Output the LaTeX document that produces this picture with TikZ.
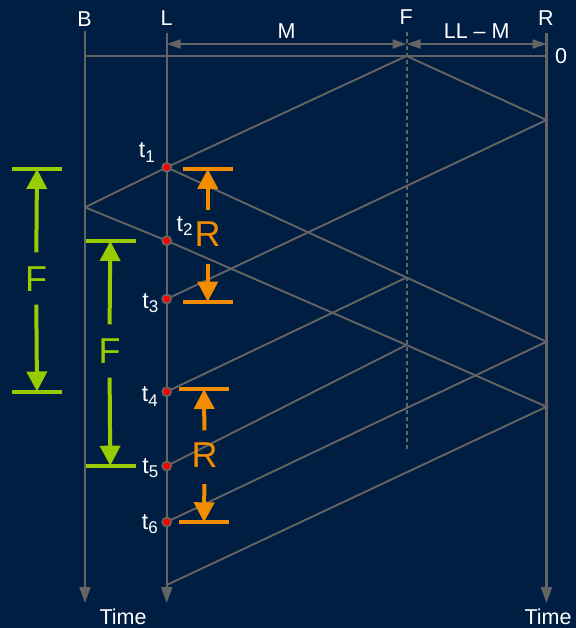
\documentclass[tikz,border=0pt]{standalone}
\usepackage{fontspec}
\setmainfont{Liberation Sans}
\usetikzlibrary{arrows.meta}

\definecolor{bg}{RGB}{0,30,65}
\definecolor{wire}{RGB}{100,100,100}
\definecolor{lime}{RGB}{153,204,0}
\definecolor{amber}{RGB}{242,140,0}

\newcommand{\tsub}[1]{t\raisebox{-4.5pt}{\fontsize{17}{17}\selectfont #1}}

\begin{document}
\begin{tikzpicture}[x=1pt,y=-1pt,
  lab/.style={text=white, inner sep=0pt, font=\fontsize{21.5}{21.5}\selectfont},
  tlab/.style={text=white, inner sep=0pt, font=\fontsize{23}{23}\selectfont},
  biglab/.style={inner sep=0pt, font=\fontsize{36}{36}\selectfont},
  axis/.style={draw=wire, line width=2.2pt},
  timeaxis/.style={axis, -{Triangle[length=16pt,width=11pt]}},
  dimline/.style={draw=wire, line width=2pt, {Triangle[length=14pt,width=9pt]}-{Triangle[length=14pt,width=9pt]}},
  faultline/.style={draw=wire, line width=2pt, dash pattern=on 4pt off 3pt},
  wave/.style={draw=wire, line width=1.9pt},
  dot/.style={circle, fill=red, draw=wire, line width=1.7pt, minimum size=9pt, inner sep=0pt},
  gbar/.style={draw=lime, line width=4pt},
  garrow/.style={draw=lime, line width=4pt, -{Triangle[length=20pt,width=20pt]}},
  obar/.style={draw=amber, line width=4pt},
  oarrow/.style={draw=amber, line width=4pt, -{Triangle[length=20pt,width=20pt]}}
]
\useasboundingbox[fill=bg] (0,0) rectangle (576,628);

% ---- station labels and dimensions
\node[lab] (labB) at (84.5,19.5) {B};
\node[lab] (labL) at (166.7,18) {L};
\node[lab] (labF) at (406.3,17) {F};
\node[lab] (labR) at (545.8,18) {R};
\node[lab] (labM) at (286.6,31) {M};
\node[lab] (labLLM) at (476.7,31) {LL – M};
\node[lab] (lab0) at (561,56) {0};
\node[lab] (timeB) at (123,616.5) {Time};
\node[lab] (timeR) at (548,616.5) {Time};

% ---- axis end points
\coordinate (Btop) at (85,31);     \coordinate (Bbot) at (85,603);
\coordinate (Ltop) at (166.7,33);  \coordinate (Lbot) at (166.7,603);
\coordinate (Rtop) at (546.5,33);  \coordinate (Rbot) at (546.5,603);
\coordinate (Ftop) at (406.5,32);  \coordinate (Fbot) at (406.5,450);
\coordinate (zeroB) at (84,56);    \coordinate (zeroR) at (547.5,56);
\coordinate (dimL) at (166.7,44);  \coordinate (dimF) at (406.5,44);
\coordinate (dimR) at (546.5,44);

\draw[timeaxis] (Btop) -- (Bbot);
\draw[timeaxis] (Ltop) -- (Lbot);
\draw[timeaxis] (Rtop) -- (Rbot);
\draw[faultline] (Ftop) -- (Fbot);
\draw[axis] (zeroB) -- (zeroR);
\draw[dimline] (dimL) -- (dimF);
\draw[dimline] (dimF) -- (dimR);

% ---- reflection points of the travelling waves
\coordinate (F0) at (406.5,56);
\coordinate (R1) at (546.5,120);
\coordinate (B1) at (85,207.3);
\coordinate (F2) at (406.5,277.5);
\coordinate (F3) at (406.5,345);
\coordinate (R2) at (546.5,341.7);
\coordinate (R3) at (546.5,406.7);
\coordinate (Lend) at (166.7,585);

\coordinate (p1) at (166.7,167.3);
\coordinate (p2) at (166.7,240.7);
\coordinate (p3) at (166.7,299);
\coordinate (p4) at (166.7,391.7);
\coordinate (p5) at (166.7,466);
\coordinate (p6) at (166.7,522);

% ---- lattice
\draw[wave] (B1) -- (p1) -- (F0) -- (R1) -- (p3);
\draw[wave] (B1) -- (p2) -- (F3) -- (R3) -- (Lend);
\draw[wave] (p1) -- (F2) -- (R2) -- (p6);
\draw[wave] (F2) -- (p4);
\draw[wave] (F3) -- (p5);

% ---- arrivals at L
\node[dot] (t1) at (p1) {};
\node[dot] (t2) at (p2) {};
\node[dot] (t3) at (p3) {};
\node[dot] (t4) at (p4) {};
\node[dot] (t5) at (p5) {};
\node[dot] (t6) at (p6) {};

\node[tlab, anchor=base east] (lt1) at (155,158) {\tsub{1}};
\node[tlab, anchor=base west] (lt2) at (176.5,231) {\tsub{2}};
\node[tlab, anchor=base east] (lt3) at (158.5,308) {\tsub{3}};
\node[tlab, anchor=base east] (lt4) at (158,401.5) {\tsub{4}};
\node[tlab, anchor=base east] (lt5) at (158.5,473) {\tsub{5}};
\node[tlab, anchor=base east] (lt6) at (158,529) {\tsub{6}};

% ---- F intervals (green)
\node[biglab, text=lime] (fA) at (36.2,279) {F};
\draw[gbar] (12,169) -- (62,169);
\draw[gbar] (12,391.5) -- (62,391.5);
\coordinate (fAtop) at (37,169);   \coordinate (fAbot) at (37,391.5);
\draw[garrow, shorten <=14pt] (fA.north) -- (fAtop);
\draw[garrow, shorten <=13pt] (fA.south) -- (fAbot);

\node[biglab, text=lime] (fB) at (109.5,351) {F};
\draw[gbar] (85.7,241) -- (135.7,241);
\draw[gbar] (85.7,465.7) -- (135.7,465.7);
\coordinate (fBtop) at (110.3,241);  \coordinate (fBbot) at (110.3,465.7);
\draw[garrow, shorten <=14pt] (fB.north) -- (fBtop);
\draw[garrow, shorten <=14pt] (fB.south) -- (fBbot);

% ---- R intervals (orange)
\node[biglab, text=amber] (rA) at (207.7,234) {R};
\draw[obar] (183.3,169) -- (232.7,169);
\draw[obar] (183.3,301.7) -- (232.7,301.7);
\coordinate (rAtop) at (207.7,169);  \coordinate (rAbot) at (207.7,301.7);
\draw[oarrow, shorten <=11pt] (rA.north) -- (rAtop);
\draw[oarrow, shorten <=17pt] (rA.south) -- (rAbot);

\node[biglab, text=amber] (rB) at (204.5,455.5) {R};
\draw[obar] (179,389) -- (229,389);
\draw[obar] (179,522.3) -- (229,522.3);
\coordinate (rBtop) at (204,389);  \coordinate (rBbot) at (204,522.3);
\draw[oarrow, shorten <=12.5pt] (rB.north) -- (rBtop);
\draw[oarrow, shorten <=16pt] (rB.south) -- (rBbot);
\end{tikzpicture}
\end{document}
